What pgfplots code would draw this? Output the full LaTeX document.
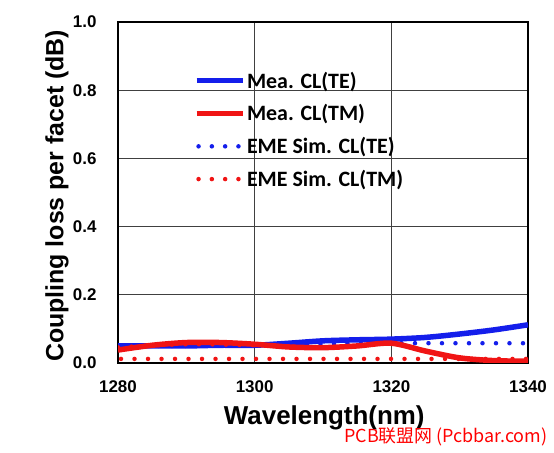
\documentclass[border=0pt]{standalone}
\usepackage{pgfplots}
\pgfplotsset{compat=1.18}
\usepackage{fontspec}
\setmainfont{Liberation Sans}
\newfontfamily\cjk{Noto Sans CJK SC}
\newfontfamily\calib{Carlito}
\definecolor{mblue}{RGB}{20,30,235}
\definecolor{mred}{RGB}{240,20,20}
\begin{document}
\begin{tikzpicture}[x=1bp,y=1bp]
\path[use as bounding box] (0,0) rectangle (554,453);
\begin{axis}[
  at={(118bp,90bp)}, anchor=south west,
  scale only axis, width=410bp, height=341bp,
  xmin=1280, xmax=1340, ymin=0, ymax=1.0,
  xtick={1280,1300,1320,1340}, ytick={0,0.2,0.4,0.6,0.8,1.0},
  /pgf/number format/assume math mode=true,
  xticklabel style={font=\bfseries\fontsize{17}{19}\selectfont, yshift=-14bp, /pgf/number format/set thousands separator={}},
  yticklabel style={font=\bfseries\fontsize{17}{19}\selectfont, xshift=-18bp, /pgf/number format/fixed, /pgf/number format/fixed zerofill, /pgf/number format/precision=1},
  xlabel={\bfseries Wavelength(nm)}, ylabel={\bfseries Coupling loss per facet (dB)},
  xlabel style={font=\fontsize{26}{28}\selectfont, at={(axis description cs:0.503,-0.162)}, anchor=center},
  ylabel style={font=\fontsize{25}{28}\selectfont, at={(axis description cs:-0.149,0.49)}, anchor=center},
  major tick length=0pt,
  grid=major, grid style={black!75, line width=1.2bp},
  axis line style={line width=2.5bp},
  legend style={draw=none, fill=none, at={(0.185,0.86)}, anchor=north west, inner sep=0pt, font=\calib\bfseries\fontsize{22}{24}\selectfont, row sep=11bp, nodes={inner sep=2bp}},
  legend cell align=left,
  legend image code/.code={\draw[#1] (0bp,0bp) -- (46bp,0bp);},
]
\addlegendimage{mblue, line width=5bp}
\addlegendentry{Mea. CL(TE)}
\addlegendimage{mred, line width=5bp}
\addlegendentry{Mea. CL(TM)}
\addlegendimage{mblue, line width=4.5bp, line cap=round, dash pattern=on 0bp off 13.3bp, dash phase=-2bp}
\addlegendentry{EME Sim. CL(TE)}
\addlegendimage{mred, line width=4.5bp, line cap=round, dash pattern=on 0bp off 13.3bp, dash phase=-2bp}
\addlegendentry{EME Sim. CL(TM)}
% EME sim TE
\addplot[forget plot, mblue, line width=4.5bp, line cap=round, dash pattern=on 0bp off 13.5bp, smooth] coordinates {
(1280,0.050) (1290,0.050) (1300,0.052) (1310,0.056) (1320,0.058) (1330,0.058) (1340,0.058)};
% EME sim TM
\addplot[forget plot, mred, line width=4.5bp, line cap=round, dash pattern=on 0bp off 13.5bp, dash phase=-3bp] coordinates {
(1280,0.012) (1340,0.012)};
% Mea TE
\addplot[forget plot, mblue, line width=5.5bp, smooth] coordinates {
(1280,0.050) (1285,0.050) (1290,0.050) (1295,0.052) (1300,0.052) (1305,0.058) (1310,0.065) (1315,0.068) (1320,0.070) (1325,0.075) (1330,0.085) (1335,0.097) (1340,0.112)};
% Mea TM
\addplot[forget plot, mred, line width=5.5bp, smooth] coordinates {
(1280,0.038) (1285,0.052) (1290,0.060) (1295,0.060) (1300,0.055) (1305,0.047) (1310,0.045) (1315,0.050) (1320,0.058) (1325,0.035) (1330,0.015) (1335,0.007) (1340,0.005)};
% dotted overlay along TM
\addplot[forget plot, mred, line width=4.5bp, line cap=round, dash pattern=on 0bp off 13.5bp, smooth] coordinates {
(1280,0.046) (1290,0.055) (1300,0.052) (1310,0.046) (1320,0.058)};
\end{axis}
\node[text=red, font=\cjk\fontsize{18}{20}\selectfont, anchor=east] at (551,16) {PCB联盟网 (Pcbbar.com)};
\end{tikzpicture}
\end{document}
